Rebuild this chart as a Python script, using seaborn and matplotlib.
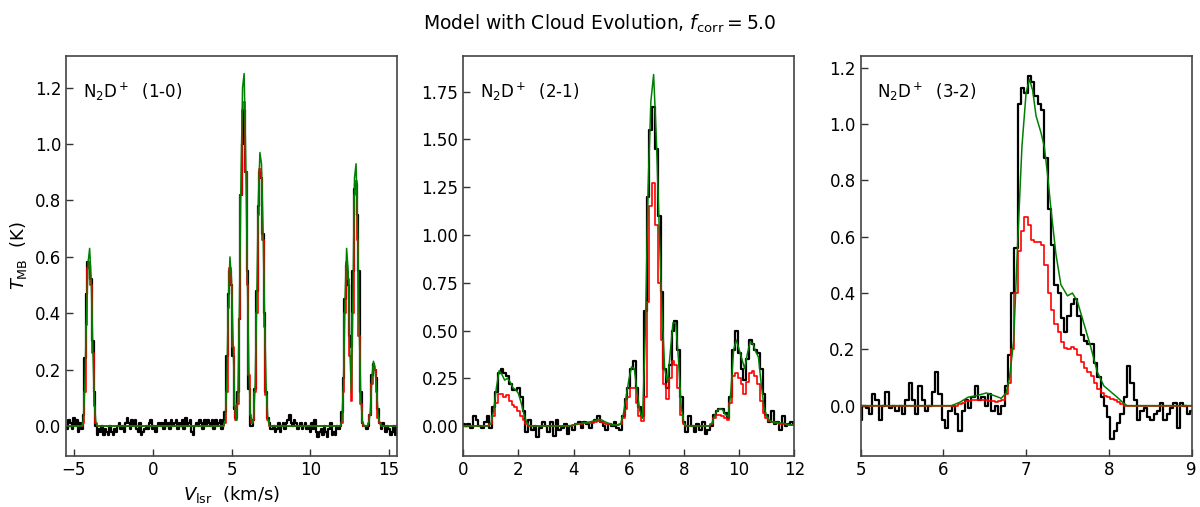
import numpy as np
import pandas as pd
import matplotlib
matplotlib.use("Agg")
import matplotlib.pyplot as plt
import seaborn as sns

# ---------------- Panel 1: N2D+ (1-0), channels -5.5 .. 15.5 step 0.1 km/s
p1_v0, p1_dv = -5.5, 0.1
p1_obs = [
    0.0, -0.01, 0.02, 0.01, -0.01, 0.03, 0.0, 0.02, -0.02, 0.01,
    -0.01, 0.04, 0.24, 0.47, 0.58, 0.57, 0.52, 0.30, 0.12, 0.0,
    -0.03, -0.01, -0.02, 0.0, -0.03, -0.01, -0.02, -0.03, 0.0, -0.02,
    -0.03, -0.01, -0.02, 0.0, 0.01, -0.01, 0.0, -0.02, 0.01, 0.03,
    0.01, -0.01, 0.02, 0.0, 0.02, -0.01, -0.02, 0.01, -0.03, -0.02,
    -0.01, 0.0, -0.01, 0.01, 0.02, -0.01, 0.0, -0.02, 0.0, 0.01,
    0.0, 0.01, -0.01, 0.02, 0.0, 0.01, -0.01, 0.02, 0.0, 0.01,
    0.02, -0.01, 0.01, 0.0, 0.02, -0.01, 0.03, 0.0, 0.01, 0.02,
    -0.02, -0.03, 0.0, 0.01, 0.0, 0.02, 0.01, -0.01, 0.02, 0.0,
    0.02, 0.01, 0.0, 0.02, -0.01, 0.02, 0.0, 0.01, 0.02, -0.01,
    0.02, 0.05, 0.25, 0.47, 0.55, 0.50, 0.25, 0.06, 0.03, 0.12,
    0.38, 0.82, 1.00, 1.12, 0.90, 0.55, 0.13, 0.0, 0.0, 0.02,
    0.13, 0.48, 0.78, 0.90, 0.88, 0.68, 0.40, 0.12, 0.03, 0.01,
    -0.01, -0.01, 0.0, -0.02, -0.01, 0.01, -0.02, 0.0, 0.01, -0.01,
    0.01, 0.02, 0.04, 0.01, 0.0, 0.02, 0.01, -0.01, 0.0, 0.01,
    -0.01, 0.0, 0.01, -0.01, 0.0, -0.02, 0.01, -0.01, 0.02, -0.02,
    -0.04, -0.02, -0.01, -0.03, 0.0, -0.02, -0.04, -0.01, 0.01, -0.03,
    -0.02, -0.03, 0.0, -0.01, 0.0, 0.05, 0.17, 0.45, 0.57, 0.50,
    0.32, 0.28, 0.55, 0.84, 0.86, 0.75, 0.55, 0.12, 0.01, 0.0,
    0.0, -0.01, 0.0, 0.04, 0.18, 0.22, 0.20, 0.17, 0.06, 0.01,
    -0.01, 0.01, 0.0, -0.02, 0.0, -0.01, -0.03, -0.02, 0.0, -0.03,
    0.0,
]
p1_red = (
    [0.0] * 10
    + [0.0, 0.01, 0.12, 0.36, 0.56, 0.58, 0.50, 0.26, 0.07, 0.01]
    + [0.0] * 80
    + [0.0, 0.01, 0.12, 0.42, 0.56, 0.50, 0.28, 0.07, 0.02, 0.08]
    + [0.38, 0.82, 1.12, 1.15, 0.90, 0.50, 0.18, 0.04, 0.01, 0.02]
    + [0.12, 0.40, 0.75, 0.91, 0.88, 0.66, 0.35, 0.11, 0.02, 0.0]
    + [0.0] * 40
    + [0.0, 0.0, 0.0, 0.0, 0.0, 0.01, 0.12, 0.40, 0.58, 0.52]
    + [0.25, 0.09, 0.40, 0.82, 0.87, 0.66, 0.32, 0.08, 0.01, 0.0]
    + [0.0, 0.0, 0.01, 0.04, 0.15, 0.21, 0.20, 0.12, 0.03, 0.01]
    + [0.0] * 11
)
p1_green = (
    [0.0] * 10
    + [0.0, 0.02, 0.15, 0.40, 0.58, 0.63, 0.52, 0.28, 0.08, 0.01]
    + [0.0] * 80
    + [0.0, 0.02, 0.15, 0.45, 0.60, 0.52, 0.30, 0.08, 0.02, 0.10]
    + [0.42, 0.88, 1.20, 1.25, 0.95, 0.55, 0.20, 0.04, 0.01, 0.03]
    + [0.15, 0.45, 0.80, 0.97, 0.93, 0.70, 0.38, 0.13, 0.03, 0.0]
    + [0.0] * 40
    + [0.0, 0.0, 0.0, 0.0, 0.0, 0.02, 0.15, 0.45, 0.63, 0.55]
    + [0.28, 0.12, 0.45, 0.88, 0.93, 0.70, 0.35, 0.10, 0.02, 0.0]
    + [0.0, 0.0, 0.01, 0.05, 0.17, 0.23, 0.21, 0.13, 0.04, 0.01]
    + [0.0] * 11
)

# ---------------- Panel 2: N2D+ (2-1), channels 0 .. 12 step 0.1 km/s
p2_v0, p2_dv = 0.0, 0.1
p2_obs = [
    0.01, 0.0, 0.01, -0.01, 0.05, 0.03, 0.0, -0.01, 0.02, 0.05,
    -0.01, 0.10, 0.18, 0.28, 0.30, 0.28, 0.26, 0.22, 0.19, 0.19,
    0.20, 0.15, 0.08, -0.03, 0.03, -0.02, 0.0, -0.06, -0.01, 0.02,
    0.0, -0.03, 0.02, -0.05, 0.03, -0.02, -0.01, 0.01, -0.04, 0.0,
    -0.02, 0.01, 0.02, -0.01, 0.02, 0.01, -0.01, 0.02, 0.03, 0.05,
    0.02, 0.0, -0.02, 0.01, 0.0, 0.02, -0.01, -0.02, 0.05, 0.14,
    0.20, 0.30, 0.34, 0.20, 0.10, 0.05, 0.60, 1.20, 1.55, 1.67,
    1.45, 1.10, 0.70, 0.30, 0.20, 0.32, 0.50, 0.55, 0.40, 0.15,
    0.02, -0.03, 0.05, 0.0, -0.03, 0.01, -0.02, 0.02, -0.04, -0.02,
    0.0, 0.06, 0.08, 0.09, 0.09, 0.07, 0.04, 0.15, 0.40, 0.50,
    0.38, 0.30, 0.24, 0.35, 0.45, 0.43, 0.40, 0.38, 0.30, 0.17,
    0.06, 0.02, 0.08, 0.01, 0.02, -0.02, 0.05, 0.0, 0.01, 0.02,
    0.01,
]
p2_red = [
    0.0, 0.0, 0.0, 0.0, 0.0, 0.0, 0.0, 0.0, 0.0, 0.0,
    0.01, 0.05, 0.12, 0.17, 0.17, 0.15, 0.16, 0.13, 0.11, 0.10,
    0.08, 0.05, 0.03, 0.01, 0.0, 0.0, 0.0, 0.0, 0.0, 0.0,
    0.0, 0.0, 0.0, 0.0, 0.0, 0.0, 0.0, 0.0, 0.0, 0.0,
    0.005, 0.008, 0.01, 0.012, 0.014, 0.015, 0.016, 0.018, 0.02, 0.025,
    0.022, 0.018, 0.012, 0.008, 0.006, 0.005, 0.005, 0.008, 0.04, 0.09,
    0.15, 0.20, 0.20, 0.12, 0.05, 0.025, 0.15, 0.65, 1.15, 1.27,
    1.05, 0.75, 0.45, 0.22, 0.14, 0.25, 0.34, 0.32, 0.20, 0.06,
    0.01, 0.0, 0.0, 0.0, 0.0, 0.0, 0.0, 0.0, 0.0, 0.0,
    0.01, 0.04, 0.06, 0.06, 0.055, 0.04, 0.03, 0.12, 0.26, 0.28,
    0.25, 0.22, 0.17, 0.23, 0.28, 0.29, 0.26, 0.22, 0.13, 0.07,
    0.04, 0.025, 0.02, 0.015, 0.015, 0.01, 0.01, 0.008, 0.005, 0.004,
    0.003,
]
p2_green = [
    0.0, 0.0, 0.0, 0.0, 0.0, 0.0, 0.0, 0.0, 0.0, 0.0,
    0.01, 0.08, 0.20, 0.29, 0.27, 0.24, 0.25, 0.23, 0.20, 0.19,
    0.17, 0.12, 0.06, 0.02, 0.0, 0.0, 0.0, 0.0, 0.0, 0.0,
    0.0, 0.0, 0.0, 0.0, 0.0, 0.0, 0.0, 0.0, 0.0, 0.0,
    0.005, 0.01, 0.012, 0.015, 0.018, 0.02, 0.022, 0.025, 0.03, 0.035,
    0.033, 0.025, 0.018, 0.012, 0.008, 0.006, 0.005, 0.01, 0.06, 0.15,
    0.24, 0.31, 0.30, 0.18, 0.08, 0.04, 0.50, 1.25, 1.70, 1.84,
    1.50, 1.05, 0.62, 0.30, 0.23, 0.38, 0.54, 0.54, 0.35, 0.10,
    0.01, 0.0, 0.0, 0.0, 0.0, 0.0, 0.0, 0.0, 0.0, 0.0,
    0.01, 0.05, 0.08, 0.09, 0.085, 0.06, 0.05, 0.18, 0.40, 0.45,
    0.40, 0.35, 0.30, 0.38, 0.44, 0.43, 0.39, 0.36, 0.22, 0.10,
    0.05, 0.03, 0.02, 0.02, 0.02, 0.015, 0.015, 0.01, 0.008, 0.005,
    0.005,
]

# ---------------- Panel 3: N2D+ (3-2), channels 5 .. 9 step 0.04 km/s
p3_v0, p3_dv = 5.0, 0.04
p3_obs = [
    -0.05, 0.0, -0.01, -0.03, 0.04, 0.02, -0.05, 0.0, 0.05, -0.01,
    0.0, -0.02, 0.0, -0.03, 0.02, 0.08, 0.02, -0.03, 0.07, 0.02,
    -0.02, 0.0, 0.05, 0.12, 0.04, -0.05, -0.08, -0.02, 0.0, -0.03,
    -0.09, -0.02, 0.02, -0.01, 0.03, 0.07, 0.02, 0.03, 0.0, 0.04,
    -0.02, 0.0, -0.03, 0.0, 0.07, 0.18, 0.40, 0.56, 1.07, 1.13,
    1.11, 1.17, 1.15, 1.10, 1.07, 1.05, 0.88, 0.70, 0.57, 0.43,
    0.40, 0.31, 0.26, 0.32, 0.36, 0.38, 0.32, 0.25, 0.23, 0.22,
    0.22, 0.15, 0.10, 0.03, 0.0, -0.04, -0.12, -0.09, -0.06, -0.03,
    0.03, 0.14, 0.08, 0.02, -0.05, -0.02, -0.01, -0.04, -0.05, -0.03,
    -0.02, 0.01, -0.05, -0.03, -0.01, 0.01, -0.08, 0.01, 0.0, -0.03,
    -0.02,
]
p3_red = (
    [0.0] * 30
    + [0.005, 0.01, 0.015, 0.018, 0.02, 0.02, 0.02, 0.02, 0.02, 0.018,
       0.015, 0.013, 0.015, 0.02, 0.04, 0.08, 0.20, 0.40, 0.55, 0.62,
       0.67, 0.64, 0.59, 0.58, 0.58, 0.57, 0.50, 0.40, 0.34, 0.29,
       0.26, 0.225, 0.205, 0.20, 0.21, 0.20, 0.18, 0.155, 0.135, 0.12,
       0.105, 0.08, 0.06, 0.045, 0.035, 0.03, 0.025, 0.02, 0.012, 0.006,
       0.0]
    + [0.0] * 20
)
p3_green_v = [5.0, 6.1, 6.2, 6.3, 6.4, 6.52, 6.62, 6.7, 6.76, 6.8, 6.85, 6.9,
              6.95, 7.0, 7.04, 7.08, 7.12, 7.18, 7.22, 7.26, 7.3, 7.36, 7.42,
              7.5, 7.56, 7.62, 7.7, 7.78, 7.86, 7.94, 8.02, 8.1, 8.18, 8.22, 9.0]
p3_green = [0.0, 0.0, 0.012, 0.03, 0.035, 0.045, 0.035, 0.026, 0.045, 0.10,
            0.23, 0.59, 0.92, 1.11, 1.16, 1.12, 1.03, 0.97, 0.92, 0.82, 0.70,
            0.54, 0.43, 0.39, 0.40, 0.37, 0.29, 0.21, 0.12, 0.07, 0.05, 0.03,
            0.008, 0.0, 0.0]

labels = [r"N$_2$D$^+$  (1-0)", r"N$_2$D$^+$  (2-1)", r"N$_2$D$^+$  (3-2)"]
xlims = [(-5.5, 15.5), (0, 12), (5, 9)]
ylims = [(-0.106, 1.312), (-0.157, 1.937), (-0.179, 1.242)]
xticks = [[-5, 0, 5, 10, 15], [0, 2, 4, 6, 8, 10, 12], [5, 6, 7, 8, 9]]
yticks = [[0.0, 0.2, 0.4, 0.6, 0.8, 1.0, 1.2],
          [0.0, 0.25, 0.5, 0.75, 1.0, 1.25, 1.5, 1.75],
          [0.0, 0.2, 0.4, 0.6, 0.8, 1.0, 1.2]]
yfmt = ["{:.1f}", "{:.2f}", "{:.1f}"]

sns.set_style("white")
plt.rcParams["font.family"] = ["DejaVu Sans"]
plt.rcParams["mathtext.fontset"] = "dejavusans"
plt.rcParams["text.color"] = "black"
plt.rcParams["axes.labelcolor"] = "black"
plt.rcParams["xtick.color"] = "black"
plt.rcParams["ytick.color"] = "black"

fig, axes = plt.subplots(1, 3, figsize=(12, 5.07), dpi=100)
fig.subplots_adjust(left=0.055, right=0.993, top=0.8895, bottom=0.1006, wspace=0.2)

panels = [
    (p1_v0, p1_dv, p1_obs, p1_red, None, p1_green),
    (p2_v0, p2_dv, p2_obs, p2_red, None, p2_green),
    (p3_v0, p3_dv, p3_obs, p3_red, p3_green_v, p3_green),
]

for i, (ax, (v0, dv, obs, red, gv, green)) in enumerate(zip(axes, panels)):
    v = v0 + dv * np.arange(len(obs))
    df = pd.DataFrame({"v": v, "obs": obs, "red": red})
    sns.lineplot(data=df, x="v", y="obs", ax=ax, color="black", lw=1.6,
                 drawstyle="steps-mid", estimator=None, sort=False)
    sns.lineplot(data=df, x="v", y="red", ax=ax, color="red", lw=1.2,
                 drawstyle="steps-mid", estimator=None, sort=False)
    if gv is None:
        gdf = pd.DataFrame({"v": v, "g": green})
    else:
        gdf = pd.DataFrame({"v": gv, "g": green})
    sns.lineplot(data=gdf, x="v", y="g", ax=ax, color="green", lw=1.1,
                 estimator=None, sort=False)
    ax.set_xlim(*xlims[i])
    ax.set_ylim(*ylims[i])
    ax.set_xticks(xticks[i])
    ax.set_yticks(yticks[i])
    ax.set_yticklabels([yfmt[i].format(t) for t in yticks[i]])
    ax.tick_params(direction="in", length=5, width=1, labelsize=12,
                   bottom=True, left=True, top=False, right=False,
                   color="#333333", labelcolor="black")
    for s in ax.spines.values():
        s.set_color("#444444")
        s.set_linewidth(1.2)
    ax.set_xlabel("")
    ax.set_ylabel("")
    ax.text(0.05, 0.91, labels[i], transform=ax.transAxes, fontsize=12,
            ha="left", va="center", color="black")

axes[0].set_ylabel(r"$T_{\rm MB}$  (K)", fontsize=13, color="black")
axes[0].set_xlabel(r"$V_{\rm lsr}$  (km/s)", fontsize=13, color="black")
fig.suptitle(r"Model with Cloud Evolution, $f_{\rm corr} = 5.0$", fontsize=13.5,
             y=0.975, color="black")

fig.savefig("out.png", dpi=100)
